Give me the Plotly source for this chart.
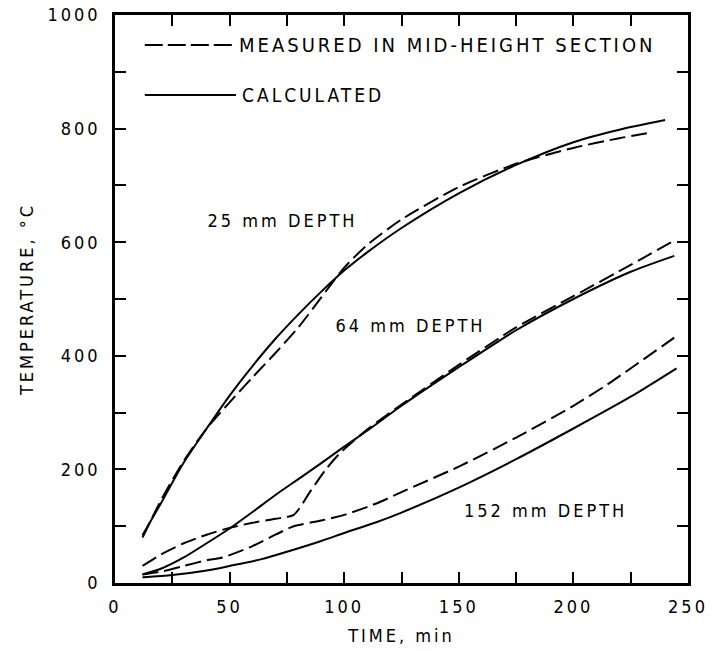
import plotly.graph_objects as go

# ---- data (time in min, temperature in deg C) ----
t25_calc = [12, 20, 30, 40, 50, 60, 70, 80, 90, 100, 110, 125, 150, 175, 200, 220, 240]
T25_calc = [84, 140, 212, 272, 330, 382, 430, 473, 513, 550, 582, 625, 686, 736, 776, 798, 815]

t25_meas = [12, 20, 30, 40, 50, 60, 70, 80, 90, 100, 110, 125, 150, 175, 200, 220, 234]
T25_meas = [80, 145, 215, 272, 318, 362, 405, 450, 503, 555, 595, 640, 697, 738, 766, 783, 793]

t64_calc = [12, 20, 30, 40, 50, 60, 70, 80, 90, 100, 110, 125, 150, 175, 200, 225, 244]
T64_calc = [15, 25, 45, 70, 96, 125, 155, 183, 211, 240, 268, 312, 380, 445, 500, 548, 576]

t64_meas = [12, 20, 30, 40, 50, 60, 70, 78, 85, 92, 98, 110, 125, 150, 175, 200, 225, 244]
T64_meas = [30, 50, 70, 85, 97, 106, 113, 120, 160, 200, 228, 270, 314, 384, 450, 505, 560, 603]

t152_calc = [12, 25, 40, 50, 64, 75, 90, 100, 114, 125, 150, 175, 200, 225, 245]
T152_calc = [10, 14, 22, 30, 42, 55, 74, 88, 107, 124, 168, 218, 272, 328, 378]

t152_meas = [12, 20, 30, 40, 47, 60, 70, 78, 90, 100, 114, 125, 150, 175, 200, 215, 244]
T152_meas = [15, 20, 30, 40, 45, 65, 85, 100, 110, 120, 140, 160, 205, 256, 312, 350, 432]

x_ticks = [0, 25, 50, 75, 100, 125, 150, 175, 200, 225, 250]
x_labels = ["0", "", "50", "", "100", "", "150", "", "200", "", "250"]
y_ticks = [0, 100, 200, 300, 400, 500, 600, 700, 800, 900, 1000]
y_labels = ["0", "", "200", "", "400", "", "600", "", "800", "", "1000"]

depth_labels = ["25 mm DEPTH", "64 mm DEPTH", "152 mm DEPTH"]
depth_pos = [(73, 638), (129, 453), (188, 128)]

FONT = "Liberation Sans Narrow, DejaVu Sans Condensed, Arial Narrow, sans-serif"
DASH = "16px,6px"

fig = go.Figure()
series = [
    (t25_meas, T25_meas, True), (t25_calc, T25_calc, False),
    (t64_meas, T64_meas, True), (t64_calc, T64_calc, False),
    (t152_meas, T152_meas, True), (t152_calc, T152_calc, False),
]
for xs, ys, dashed in series:
    fig.add_trace(go.Scatter(
        x=xs, y=ys, mode="lines", showlegend=False,
        line=dict(color="black", width=2, shape="spline", smoothing=0.7,
                  dash=DASH if dashed else "solid"),
        hoverinfo="skip"))

for txt, (px, py) in zip(depth_labels, depth_pos):
    fig.add_annotation(x=px, y=py, text=txt, showarrow=False,
                       font=dict(family=FONT, size=18, color="black"))

# custom legend
fig.add_shape(type="line", xref="paper", yref="paper", x0=0.052, x1=0.211, y0=0.947, y1=0.947,
              line=dict(color="black", width=2, dash="18px,5px"))
fig.add_shape(type="line", xref="paper", yref="paper", x0=0.052, x1=0.211, y0=0.859, y1=0.859,
              line=dict(color="black", width=2))
fig.add_annotation(xref="paper", yref="paper", x=0.581, y=0.947, xanchor="center", yanchor="middle",
                   text="MEASURED IN MID-HEIGHT SECTION", showarrow=False,
                   font=dict(family=FONT, size=20, color="black"))
fig.add_annotation(xref="paper", yref="paper", x=0.345, y=0.859, xanchor="center", yanchor="middle",
                   text="CALCULATED", showarrow=False,
                   font=dict(family=FONT, size=19, color="black"))

fig.update_layout(
    width=713, height=651,
    margin=dict(l=115, r=25, t=15, b=68, autoexpand=False),
    paper_bgcolor="white", plot_bgcolor="white",
    font=dict(family=FONT, color="black", size=18),
    xaxis=dict(range=[0, 250], tickvals=x_ticks, ticktext=x_labels, automargin=False,
               ticks="inside", ticklen=11, tickwidth=1.5, tickcolor="black",
               showline=True, linewidth=2.5, linecolor="black", mirror="allticks",
               showgrid=False, zeroline=False, ticklabelstandoff=6,
               title=dict(text="TIME, min", standoff=14, font=dict(size=18))),
    yaxis=dict(range=[0, 1000], tickvals=y_ticks, ticktext=y_labels, automargin=False,
               ticks="inside", ticklen=11, tickwidth=1.5, tickcolor="black",
               showline=True, linewidth=2.5, linecolor="black", mirror="allticks",
               showgrid=False, zeroline=False, ticklabelstandoff=8,
               title=dict(text="TEMPERATURE, °C", standoff=22, font=dict(size=18))),
)

post = ("document.body.style.margin='0';"
        "document.querySelectorAll('.annotation-text, .xtick text, .ytick text, "
        ".g-xtitle text, .g-ytitle text').forEach(function(t){t.style.letterSpacing='3px';});")
fig.write_html("out.html", post_script=post, config={"displayModeBar": False})
